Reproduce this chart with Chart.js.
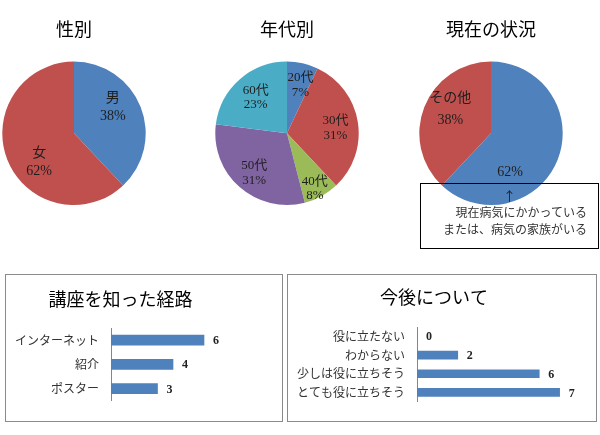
<!DOCTYPE html>
<html lang="ja">
<head>
<meta charset="utf-8">
<script src="https://cdn.jsdelivr.net/npm/chart.js@4.4.0/dist/chart.umd.min.js"></script>
<style>
  html, body { margin: 0; padding: 0; background: #fff; }
  body { width: 600px; height: 435px; position: relative; overflow: hidden; font-family: "Noto Sans CJK JP", sans-serif; }
  canvas { position: absolute; }
  .box { position: absolute; border: 1.5px solid #8a8a8a; box-sizing: border-box; }
  #note { position: absolute; left: 420px; top: 183px; width: 179px; height: 66px; border: 1px solid #000; box-sizing: border-box; }
  #note .arrow { position: absolute; left: 82px; top: 4px; width: 12px; text-align: center; font-size: 13px; line-height: 16px; color: #222; }
  #note .text { position: absolute; right: 11px; top: 19px; text-align: right; font-size: 12px; line-height: 17px; color: #333; white-space: nowrap; }
</style>
</head>
<body>
<canvas id="genderChart" width="148" height="210" style="left:0;top:0"></canvas>
<canvas id="ageChart" width="148" height="210" style="left:213px;top:0"></canvas>
<canvas id="statusChart" width="148" height="210" style="left:417px;top:0"></canvas>
<div id="note">
  <div class="arrow">↑</div>
  <div class="text">現在病気にかかっている<br>または、病気の家族がいる</div>
</div>
<div class="box" style="left:5px;top:274px;width:278px;height:148px"></div>
<div class="box" style="left:287px;top:274px;width:310px;height:148px"></div>
<canvas id="routeChart" width="276" height="145" style="left:6px;top:275px"></canvas>
<canvas id="futureChart" width="308" height="146" style="left:288px;top:275px"></canvas>

<script>
// データ
const genderLabels = ['男', '女'];
const genderValues = [38, 62];

const ageLabels = ['20代', '30代', '40代', '50代', '60代'];
const ageValues = [7, 31, 8, 31, 23];

const statusLabels = ['現在病気にかかっている または、病気の家族がいる', 'その他'];
const statusValues = [62, 38];

const routeLabels = ['インターネット', '紹介', 'ポスター'];
const routeValues = [6, 4, 3];

const futureLabels = ['役に立たない', 'わからない', '少しは役に立ちそう', 'とても役に立ちそう'];
const futureValues = [0, 2, 6, 7];

const officeColors = ['#4F81BD', '#C0504D', '#9BBB59', '#8064A2', '#4BACC6'];
const cjk = '"Noto Sans CJK JP", sans-serif';
const serif = '"Liberation Serif", "Noto Sans CJK JP", serif';

/**
 * 円グラフのラベル（項目名と％）を扇形の中に描く
 */
const sliceLabelPlugin = {
    id: 'sliceLabels',
    afterDatasetsDraw(chart, args, opts) {
        const ctx = chart.ctx;
        const meta = chart.getDatasetMeta(0);
        const values = chart.data.datasets[0].data;
        ctx.save();
        ctx.fillStyle = '#1e1e1e';
        ctx.textAlign = 'center';
        ctx.textBaseline = 'middle';
        ctx.font = opts.size + 'px ' + serif;
        meta.data.forEach((arc, i) => {
            const p = opts.place[i];
            const mid = (arc.startAngle + arc.endAngle) / 2 + p[0] * Math.PI / 180;
            const r = arc.outerRadius * p[1];
            const x = arc.x + Math.cos(mid) * r;
            const y = arc.y + Math.sin(mid) * r;
            const lines = [];
            if (!opts.hideName || !opts.hideName[i]) lines.push(chart.data.labels[i]);
            lines.push(values[i] + '%');
            lines.forEach((t, k) => {
                ctx.fillText(t, x, y + (k - (lines.length - 1) / 2) * opts.lineHeight);
            });
        });
        ctx.restore();
    }
};

/**
 * 横棒の右に値を書く
 */
const barValuePlugin = {
    id: 'barValues',
    afterDatasetsDraw(chart, args, opts) {
        const ctx = chart.ctx;
        const meta = chart.getDatasetMeta(0);
        const values = chart.data.datasets[0].data;
        ctx.save();
        ctx.font = 'bold 12px ' + serif;
        ctx.fillStyle = '#222';
        ctx.textAlign = 'left';
        ctx.textBaseline = 'middle';
        meta.data.forEach((bar, i) => {
            ctx.fillText(String(values[i]), bar.x + opts.offset, bar.y + 1);
        });
        ctx.restore();
    }
};

function makePie(id, title, labels, values, labelOpts) {
    new Chart(document.getElementById(id), {
        type: 'pie',
        data: {
            labels: labels,
            datasets: [{
                data: values,
                backgroundColor: officeColors.slice(0, values.length),
                borderWidth: 0
            }]
        },
        options: {
            responsive: false,
            animation: false,
            devicePixelRatio: 1,
            layout: { padding: { left: 2, right: 2, top: 0, bottom: 5 } },
            plugins: {
                legend: { display: false },
                tooltip: { enabled: false },
                title: {
                    display: true,
                    text: title,
                    color: '#000',
                    font: { family: cjk, size: 18, weight: 'normal' },
                    padding: { top: 18.5, bottom: 21.5 }
                },
                sliceLabels: labelOpts
            }
        },
        plugins: [sliceLabelPlugin]
    });
}

function makeBar(id, title, labels, values, o) {
    new Chart(document.getElementById(id), {
        type: 'bar',
        data: {
            labels: labels,
            datasets: [{
                data: values,
                backgroundColor: '#4F81BD',
                borderWidth: 0,
                barThickness: o.thick
            }]
        },
        options: {
            indexAxis: 'y',
            responsive: false,
            animation: false,
            devicePixelRatio: 1,
            layout: { padding: { left: 0, right: o.padRight, top: 0, bottom: o.padBottom } },
            plugins: {
                legend: { display: false },
                tooltip: { enabled: false },
                title: {
                    display: true,
                    text: title,
                    color: '#000',
                    font: { family: cjk, size: 18, weight: 'normal' },
                    padding: { top: o.titleTop, bottom: o.titleBottom }
                },
                barValues: { offset: 9 }
            },
            scales: {
                x: { display: false, min: 0, max: 8 },
                y: {
                    grid: { display: false, drawTicks: false },
                    border: { display: true, color: '#868686', width: 1 },
                    ticks: { color: '#333', font: { family: cjk, size: 12 }, padding: 12 },
                    afterFit(scale) { scale.width = o.axisX; }
                }
            }
        },
        plugins: [barValuePlugin]
    });
}

makePie('genderChart', '性別', genderLabels, genderValues, {
    size: 14, lineHeight: 18,
    place: [[-12, 0.65], [-18, 0.63]]
});
makePie('ageChart', '年代別', ageLabels, ageValues, {
    size: 13, lineHeight: 14.5,
    place: [[3, 0.70], [3, 0.68], [2, 0.86], [-2, 0.72], [0, 0.66]]
});
makePie('statusChart', '現在の状況', statusLabels, statusValues, {
    size: 14, lineHeight: 22,
    hideName: [true, false],
    place: [[42, 0.6], [9, 0.66]]
});

makeBar('routeChart', '講座を知った経路', routeLabels, routeValues, {
    thick: 10, axisX: 105, padRight: 47, padBottom: 16, titleTop: 13.2, titleBottom: 18.2
});
makeBar('futureChart', '今後について', futureLabels, futureValues, {
    thick: 8, axisX: 129, padRight: 16, padBottom: 18, titleTop: 11.2, titleBottom: 19.2
});
</script>
</body>
</html>
